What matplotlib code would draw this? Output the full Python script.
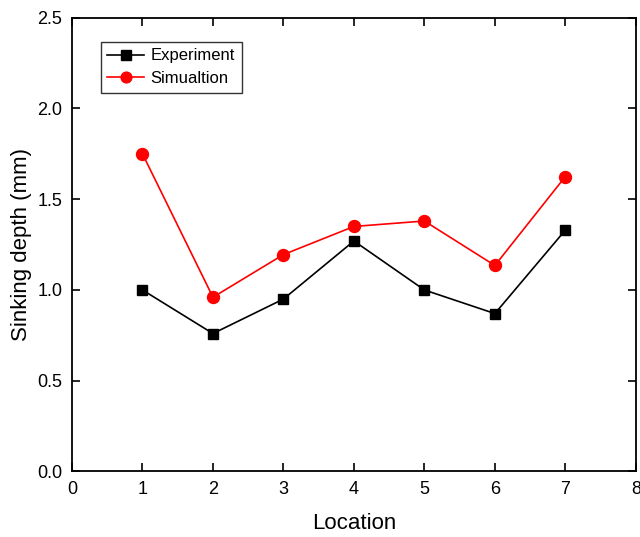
import matplotlib.pyplot as plt

plt.rcParams['font.family'] = ['Liberation Sans', 'DejaVu Sans']

location = [1, 2, 3, 4, 5, 6, 7]
experiment = [1.00, 0.76, 0.95, 1.27, 1.00, 0.87, 1.33]
simulation = [1.75, 0.96, 1.195, 1.35, 1.38, 1.135, 1.625]

fig = plt.figure(figsize=(6.4, 5.37), dpi=100)
ax = fig.add_axes([0.1125, 0.122, 0.881, 0.845])

ax.plot(location, experiment, color='black', marker='s', markersize=7.7,
        linewidth=1.2, label='Experiment')
ax.plot(location, simulation, color='red', marker='o', markersize=8.6,
        linewidth=1.2, label='Simualtion')

ax.set_xlim(0, 8)
ax.set_ylim(0, 2.5)
ax.set_xticks(range(0, 9))
ax.set_yticks([0.0, 0.5, 1.0, 1.5, 2.0, 2.5])
ax.set_yticklabels(['0.0', '0.5', '1.0', '1.5', '2.0', '2.5'])
ax.tick_params(direction='in', top=True, right=True, labelsize=13,
               length=6, width=1.2, pad=7)
for s in ax.spines.values():
    s.set_linewidth(1.3)

ax.set_xlabel('Location', fontsize=16, labelpad=11)
ax.set_ylabel('Sinking depth (mm)', fontsize=16)

leg = ax.legend(loc='upper left', bbox_to_anchor=(0.051, 0.947), fontsize=12,
                frameon=True, fancybox=False, edgecolor='black',
                borderaxespad=0, handlelength=2.2, handletextpad=0.4,
                borderpad=0.4, labelspacing=0.45, markerscale=0.9)
leg.get_frame().set_linewidth(1.0)

fig.savefig('out.png', dpi=100)
